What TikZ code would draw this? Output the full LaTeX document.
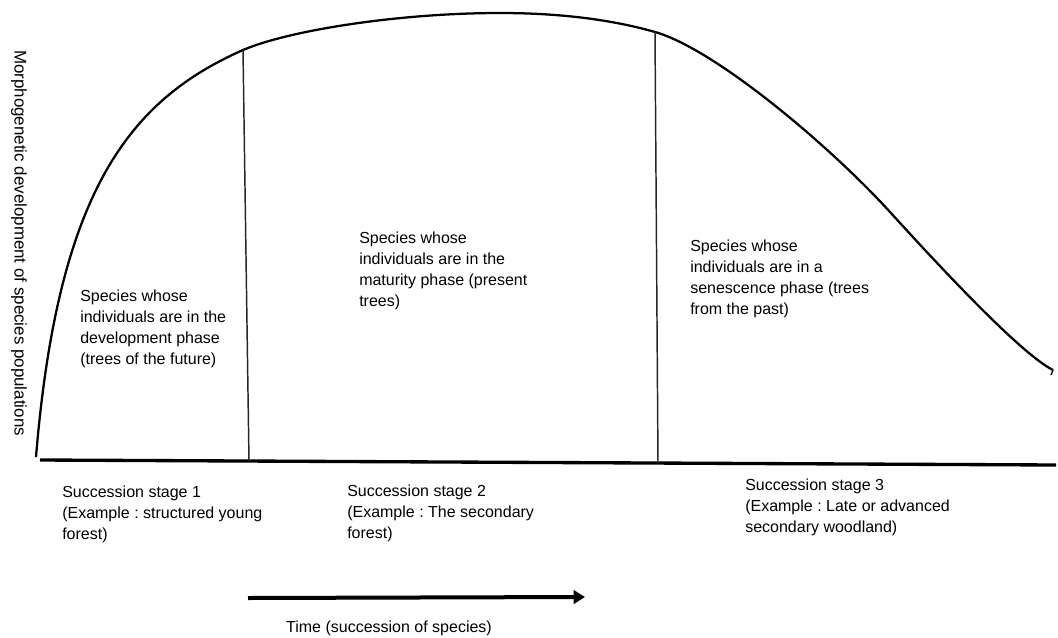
\documentclass[tikz,border=0pt]{standalone}
\usepackage{fontspec}
\setmainfont{Liberation Sans}
\usepackage{tikz}
\usetikzlibrary{calc}
\usetikzlibrary{arrows.meta}
\usetikzlibrary{positioning}
\frenchspacing
\tikzstyle{curve}=[line width=1.7pt]
\tikzstyle{stageline}=[line width=1.1pt,draw=black!85]
\tikzstyle{timeaxis}=[line width=2.5pt]
\tikzstyle{timearrow}=[line width=3pt,-{Triangle[length=8.5pt,width=10pt]}]
\tikzstyle{txt}=[anchor=north west,inner sep=0,align=left,
                 font=\fontsize{12}{15.75}\selectfont]
\tikzstyle{ylab}=[inner sep=0,rotate=-90,font=\fontsize{12.7}{15}\selectfont]

\begin{document}
\begin{tikzpicture}[x=0.75pt,y=-0.75pt]
\useasboundingbox (0,0) rectangle (1058,637);
% points of the curve
\coordinate (C0) at (36,457);
\coordinate (C1) at (243,50);
\coordinate (C2) at (500,13);
\coordinate (C3) at (655,32);
\coordinate (C4) at (890,212);
\coordinate (C5) at (1053,370);
\draw [curve] (C0) .. controls (58,190) and (130,100) .. (C1)
  .. controls (290,30) and (400,13) .. (C2)
  .. controls (570,13) and (620,22) .. (C3)
  .. controls (715,49) and (830,146) .. (C4)
  .. controls (950,278) and (1023,355) .. (C5);
\draw [line width=1pt] (C5) -- ++(-2,5);
% axis and stages
\coordinate (O) at (40,460);
\coordinate (E) at (1056,465);
\draw [timeaxis] (O) -- (E);
\coordinate (S1) at (249,461);
\coordinate (S2) at (658,463);
\draw [stageline] (C1) -- (S1);
\draw [stageline] (C3) -- (S2);
% phases
\node [txt] (dev) at (80,290) {Species whose\\individuals are in the\\development phase\\(trees of the future)};
\node [txt] (mat) at (359,232) {Species whose\\individuals are in the\\maturity phase (present\\trees)};
\node [txt] (sen) at (690,240) {Species whose\\individuals are in a\\senescence phase (trees\\from the past)};
% stages
\node [txt] (st1) at (62,486) {Succession stage 1\\(Example : structured young\\forest)};
\node [txt] (st2) at (347,485) {Succession stage 2\\(Example : The secondary\\forest)};
\node [txt] (st3) at (745,479) {Succession stage 3\\(Example : Late or advanced\\secondary woodland)};
% time
\coordinate (T0) at (248,598);
\coordinate (T1) at (585,597);
\draw [timearrow] (T0) -- (T1);
\node [txt,anchor=north] (time) at (389,621) {Time (succession of species)};
\node [ylab] (ylab) at (19,243) {Morphogenetic development of species populations};
\end{tikzpicture}
\end{document}
